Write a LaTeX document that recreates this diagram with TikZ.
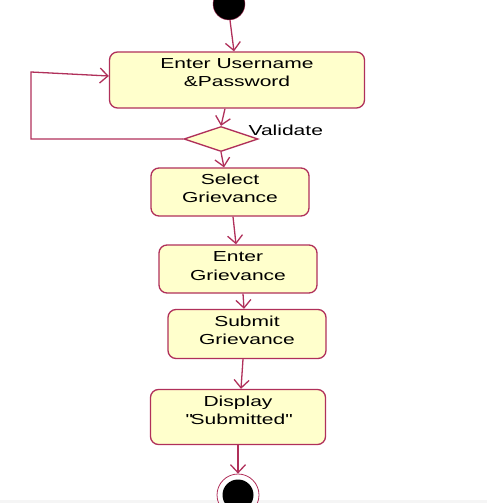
\documentclass[tikz,border=0pt]{standalone}
\usepackage{fontspec}
\setmainfont{Liberation Sans}[FakeStretch=1.45]
\usetikzlibrary{arrows.meta,shapes.geometric}
\definecolor{umlborder}{RGB}{176,48,90}
\definecolor{umlfill}{RGB}{255,255,204}
\tikzset{
  activity/.style={draw=umlborder, fill=umlfill, line width=1.3pt, rounded corners=8pt,
    align=center, inner sep=2pt, minimum width=#1},
  flow/.style={draw=umlborder, line width=1.3pt, -{Straight Barb[length=8pt,width=15pt,line width=1.3pt]}},
}
\begin{document}
\begin{tikzpicture}[x=1pt, y=-1pt, font=\fontsize{14.5}{18.5}\selectfont]
                \useasboundingbox (0,0) rectangle (487,503);
                \fill[black!4] (0,500) rectangle (487,503);

                % Start and end
                \node[circle, fill=black, draw=umlborder, minimum size=32pt, inner sep=0pt] (start) at (229,4) {};
                \node[circle, draw=umlborder, line width=0.8pt, minimum size=42pt, inner sep=0pt] (stop) at (238,495) {};
                \node[circle, fill=black, minimum size=31pt, inner sep=0pt] (stopdot) at (stop) {};

                % Activities
                \node[activity=255pt, minimum height=56pt] (login) at (237,80) {Enter Username\\\&Password\\[-4pt]};
                \node[diamond, draw=umlborder, fill=umlfill, line width=1.3pt, minimum width=74pt,
                      minimum height=25pt, inner sep=0pt] (check) at (221,139) {};
                \node[right] (checklbl) at (245,130) {Validate};
                \node[activity=158pt, minimum height=48pt] (select) at (230,192) {Select\\Grievance\\[-11pt]};
                \node[activity=158pt, minimum height=48pt] (enter) at (238,269) {Enter\\Grievance\\[-13pt]};
                \node[activity=158pt, minimum height=49pt] (submit) at (247,334) {Submit\\Grievance\\[-11pt]};
                \node[activity=175pt, minimum height=55pt] (display) at (238,417) {Display\\\textquotedbl Submitted\textquotedbl\\[-5pt]};

                % Transitions
                \draw[flow] (start.south) ++(1,0) -- ([xshift=-3pt]login.north);
                \draw[flow] ([xshift=-12pt]login.south) -- (check.north);
                \draw[flow] (check.west) -- (31,139) -- (31,72) -- ([yshift=4pt]login.west);
                \draw[flow] (check.south) -- ([xshift=-6pt]select.north);
                \draw[flow] ([xshift=3pt]select.south) -- ([xshift=-2pt]enter.north);
                \draw[flow] ([xshift=5pt]enter.south) -- ([xshift=-3pt]submit.north);
                \draw[flow] ([xshift=-4pt]submit.south) -- ([xshift=3pt]display.north);
                \draw[flow] (display.south) -- (stop.north);
              \end{tikzpicture}
\end{document}
